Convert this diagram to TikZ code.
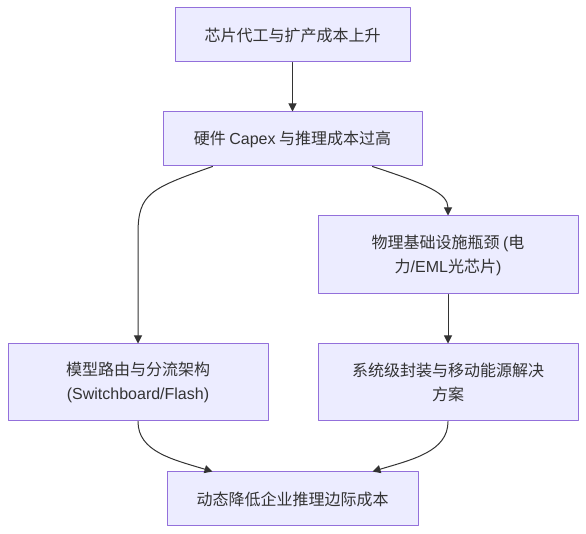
\documentclass[tikz,border=0pt]{standalone}
\usepackage{fontspec}
\setmainfont{Noto Sans CJK SC}
\newfontfamily\latn{Liberation Sans}
\usetikzlibrary{arrows.meta,calc}
\definecolor{boxfill}{HTML}{ECECFF}
\definecolor{boxline}{HTML}{9370DB}
\definecolor{edgeline}{HTML}{333333}
\begin{document}
\begin{tikzpicture}[x=0.75pt, y=-0.75pt, line join=round, line cap=round,
	box/.style={draw=boxline, fill=boxfill, line width=0.75pt, align=center,
		font=\fontsize{12}{18}\selectfont, text=edgeline, inner sep=0pt},
	arr/.style={draw=edgeline, line width=0.75pt, -{Triangle[length=6pt,width=6pt]}}]
	\useasboundingbox[fill=white] (0,0) rectangle (586,534);
	\node[box, minimum width=176.25pt, minimum height=40.5pt] (A) at (292.5,35) {芯片代工与扩产成本上升};
	\node[box, minimum width=194.25pt, minimum height=40.5pt] (B) at (292.5,139) {硬件 {\latn Capex} 与推理成本过高};
	\node[box, minimum width=195pt, minimum height=58.5pt] (C) at (448,255) {物理基础设施瓶颈 {\latn (}电\\力{\latn /EML}光芯片{\latn )}};
	\node[box, minimum width=195pt, minimum height=57.75pt] (D) at (138,382.5) {模型路由与分流架构\\{\latn (Switchboard/Flash)}};
	\node[box, minimum width=195pt, minimum height=57.75pt] (E) at (448,382.5) {系统级封装与移动能源解决\\方案};
	\node[box, minimum width=188.25pt, minimum height=40.5pt] (F) at (292.5,499) {动态降低企业推理边际成本};
	
	% Vẽ các mũi tên nối
	\coordinate (Bl) at ($(B.south)+(-80,0)$);
	\coordinate (Br) at ($(B.south)+(80,0)$);
	\coordinate (Fl) at ($(F.north)+(-80,0)$);
	\coordinate (Fr) at ($(F.north)+(80,0)$);
	\draw[arr] (A) -- (B);
	\draw[arr] (Bl) .. controls ($(Bl)+(-62,22)$) and ($(D.north)+(0,-150)$) .. ($(D.north)+(0,-110)$) -- (D.north);
	\draw[arr] (Br) .. controls ($(Br)+(55,18)$) and ($(C.north)+(0,-22)$) .. (C.north);
	\draw[arr] (C) -- (E);
	\draw[arr] (D.south) .. controls ($(D.south)+(0,30)$) and ($(Fl)+(-40,-12)$) .. (Fl);
	\draw[arr] (E.south) .. controls ($(E.south)+(0,30)$) and ($(Fr)+(40,-12)$) .. (Fr);
\end{tikzpicture}
\end{document}
